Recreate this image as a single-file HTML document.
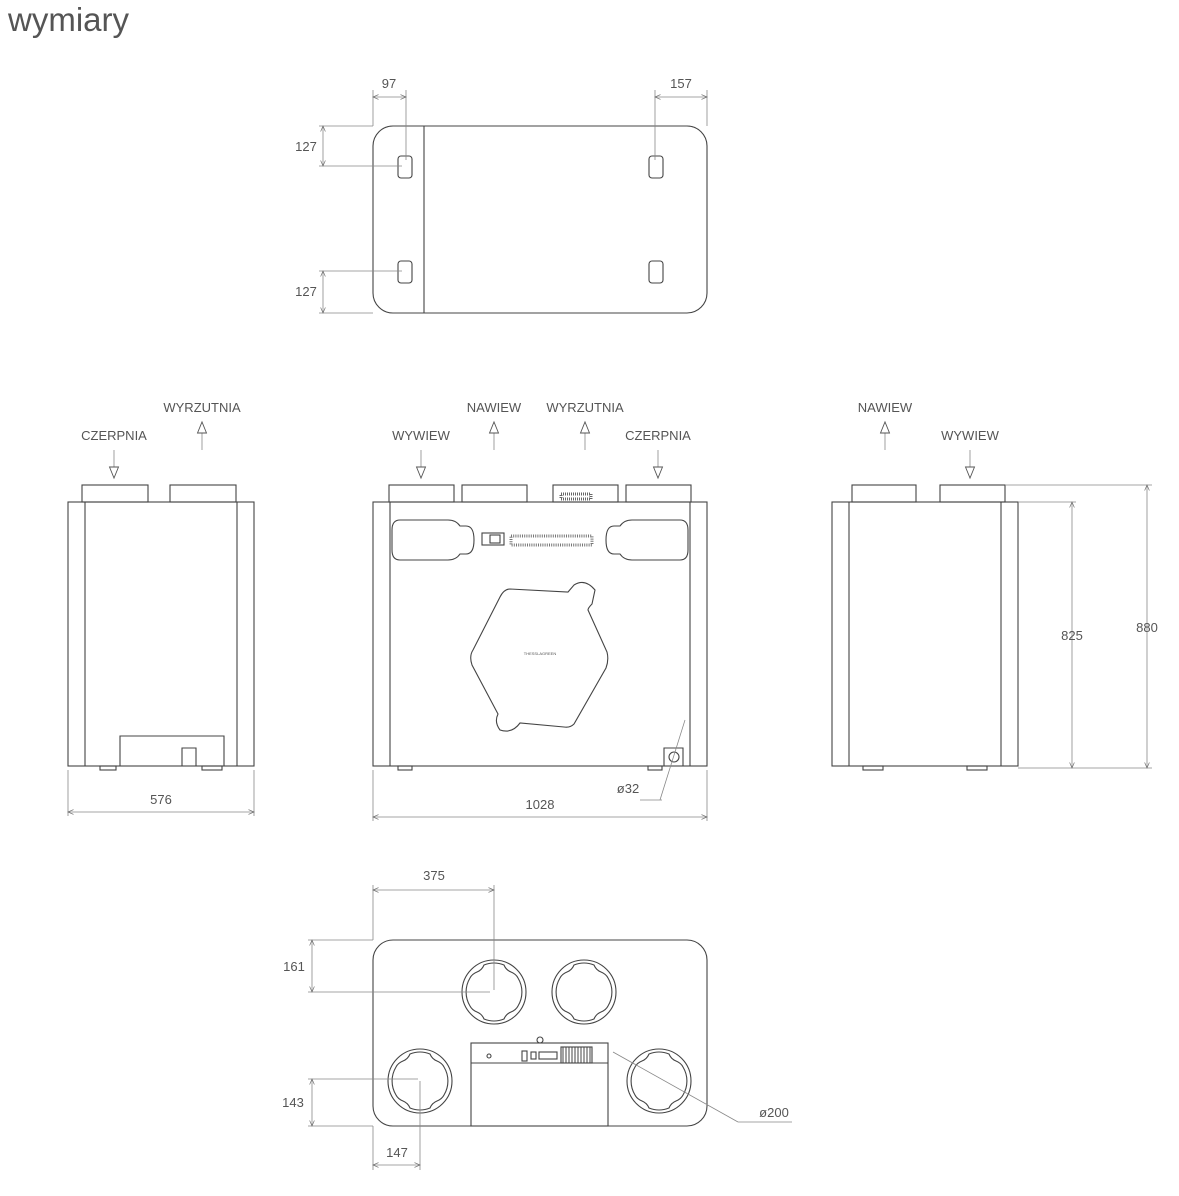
<!DOCTYPE html>
<html><head><meta charset="utf-8"><style>
html,body{margin:0;padding:0;background:#fff;}
svg{display:block;}
text{font-family:"Liberation Sans",sans-serif;fill:#555;font-size:14px;}
.l{fill:none;stroke:#444;stroke-width:1.1;}
.d{fill:none;stroke:#888;stroke-width:0.8;}
.t{font-size:13px;}
</style></head><body>
<svg width="1179" height="1196" viewBox="0 0 1179 1196" xmlns="http://www.w3.org/2000/svg">
<defs>
<marker id="a" markerWidth="8" markerHeight="8" refX="7" refY="4" orient="auto"><path d="M0,1 L7,4 L0,7" fill="none" stroke="#666" stroke-width="0.8"/></marker>
<marker id="as" markerWidth="8" markerHeight="8" refX="1" refY="4" orient="auto"><path d="M8,1 L1,4 L8,7" fill="none" stroke="#666" stroke-width="0.8"/></marker>
<marker id="h" markerWidth="14" markerHeight="12" refX="12" refY="6" orient="auto" markerUnits="userSpaceOnUse"><path d="M1,1.5 L12,6 L1,10.5 Z" fill="#fff" stroke="#555" stroke-width="0.9"/></marker>
</defs>
<text x="8" y="31" style="font-size:33px;fill:#555">wymiary</text>

<!-- TOP VIEW -->
<rect class="l" x="373" y="126" width="334" height="187" rx="20"/>
<line class="l" x1="424" y1="126" x2="424" y2="313"/>
<rect class="l" x="398" y="156" width="14" height="22" rx="3"/>
<rect class="l" x="649" y="156" width="14" height="22" rx="3"/>
<rect class="l" x="398" y="261" width="14" height="22" rx="3"/>
<rect class="l" x="649" y="261" width="14" height="22" rx="3"/>
<line class="d" x1="373" y1="90" x2="373" y2="126"/><line class="d" x1="406" y1="90" x2="406" y2="160"/>
<line class="d" x1="373" y1="97" x2="406" y2="97" marker-start="url(#as)" marker-end="url(#a)"/>
<text x="389" y="88" text-anchor="middle" class="t">97</text>
<line class="d" x1="655" y1="90" x2="655" y2="160"/><line class="d" x1="707" y1="90" x2="707" y2="126"/>
<line class="d" x1="655" y1="97" x2="707" y2="97" marker-start="url(#as)" marker-end="url(#a)"/>
<text x="681" y="88" text-anchor="middle" class="t">157</text>
<line class="d" x1="319" y1="126" x2="373" y2="126"/><line class="d" x1="319" y1="166" x2="402" y2="166"/>
<line class="d" x1="323" y1="126" x2="323" y2="166" marker-start="url(#as)" marker-end="url(#a)"/>
<text x="306" y="151" text-anchor="middle" class="t">127</text>
<line class="d" x1="319" y1="271" x2="402" y2="271"/><line class="d" x1="319" y1="313" x2="373" y2="313"/>
<line class="d" x1="323" y1="271" x2="323" y2="313" marker-start="url(#as)" marker-end="url(#a)"/>
<text x="306" y="296" text-anchor="middle" class="t">127</text>

<!-- LEFT VIEW -->
<rect class="l" x="82" y="485" width="66" height="17"/><rect class="l" x="170" y="485" width="66" height="17"/>
<rect class="l" x="68" y="502" width="186" height="264"/>
<line class="l" x1="85" y1="502" x2="85" y2="766"/><line class="l" x1="237" y1="502" x2="237" y2="766"/>
<path class="l" d="M120,766 V736 H224 V766 M182,766 V748 H196 V766"/>
<rect class="l" x="100" y="766" width="16" height="4"/><rect class="l" x="202" y="766" width="20" height="4"/>
<text x="114" y="440" text-anchor="middle" class="t">CZERPNIA</text>
<line class="d" x1="114" y1="450" x2="114" y2="478" marker-end="url(#h)"/>
<text x="202" y="412" text-anchor="middle" class="t">WYRZUTNIA</text>
<line class="d" x1="202" y1="450" x2="202" y2="422" marker-end="url(#h)"/>
<line class="d" x1="68" y1="770" x2="68" y2="816"/><line class="d" x1="254" y1="770" x2="254" y2="816"/>
<line class="d" x1="68" y1="812" x2="254" y2="812" marker-start="url(#as)" marker-end="url(#a)"/>
<text x="161" y="804" text-anchor="middle" class="t">576</text>

<!-- FRONT VIEW -->
<rect class="l" x="389" y="485" width="65" height="17"/><rect class="l" x="462" y="485" width="65" height="17"/>
<rect class="l" x="553" y="485" width="65" height="17"/><rect class="l" x="626" y="485" width="65" height="17"/>
<rect x="561" y="494" width="30" height="5" fill="none" stroke="#666" stroke-width="3" stroke-dasharray="1,1"/>
<rect class="l" x="373" y="502" width="334" height="264"/>
<line class="l" x1="390" y1="502" x2="390" y2="766"/><line class="l" x1="690" y1="502" x2="690" y2="766"/>
<path class="l" d="M400,520 H448 Q456,520 460,526 H466 Q474,526 474,540 Q474,554 466,554 H460 Q456,560 448,560 H400 Q392,560 392,550 V530 Q392,520 400,520 Z"/>
<path class="l" d="M680,520 H632 Q624,520 620,526 H614 Q606,526 606,540 Q606,554 614,554 H620 Q624,560 632,560 H680 Q688,560 688,550 V530 Q688,520 680,520 Z"/>
<rect class="l" x="482" y="533" width="22" height="12"/><rect class="l" x="490" y="535" width="10" height="8"/>
<rect x="511" y="536" width="81" height="9" fill="none" stroke="#777" stroke-width="3" stroke-dasharray="1,1.2"/>
<path class="l" d="M510,589 L568,592 L574,585 Q585,578 595,590 L592,604 Q588,608 588,610 L607,652 Q609,660 606,668 L574,724 Q570,728 564,727 L520,723 Q512,734 500,730 Q494,722 498,714 L472,665 Q469,656 473,650 L500,597 Q504,589 510,589 Z"/>
<text x="540" y="655" text-anchor="middle" style="font-size:4px">THESSLAGREEN</text>
<rect class="l" x="398" y="766" width="14" height="4"/><rect class="l" x="648" y="766" width="14" height="4"/>
<path class="l" d="M664,766 V748 H683 V766"/>
<circle class="l" cx="674" cy="757" r="5"/>
<line class="d" x1="685" y1="720" x2="660" y2="800"/>
<line class="d" x1="640" y1="800" x2="662" y2="800"/>
<text x="628" y="793" text-anchor="middle" class="t">ø32</text>
<text x="421" y="440" text-anchor="middle" class="t">WYWIEW</text>
<line class="d" x1="421" y1="450" x2="421" y2="478" marker-end="url(#h)"/>
<text x="494" y="412" text-anchor="middle" class="t">NAWIEW</text>
<line class="d" x1="494" y1="450" x2="494" y2="422" marker-end="url(#h)"/>
<text x="585" y="412" text-anchor="middle" class="t">WYRZUTNIA</text>
<line class="d" x1="585" y1="450" x2="585" y2="422" marker-end="url(#h)"/>
<text x="658" y="440" text-anchor="middle" class="t">CZERPNIA</text>
<line class="d" x1="658" y1="450" x2="658" y2="478" marker-end="url(#h)"/>
<line class="d" x1="373" y1="770" x2="373" y2="821"/><line class="d" x1="707" y1="770" x2="707" y2="821"/>
<line class="d" x1="373" y1="817" x2="707" y2="817" marker-start="url(#as)" marker-end="url(#a)"/>
<text x="540" y="809" text-anchor="middle" class="t">1028</text>

<!-- RIGHT VIEW -->
<rect class="l" x="852" y="485" width="64" height="17"/><rect class="l" x="940" y="485" width="65" height="17"/>
<rect class="l" x="832" y="502" width="186" height="264"/>
<line class="l" x1="849" y1="502" x2="849" y2="766"/><line class="l" x1="1001" y1="502" x2="1001" y2="766"/>
<rect class="l" x="863" y="766" width="20" height="4"/><rect class="l" x="967" y="766" width="20" height="4"/>
<text x="885" y="412" text-anchor="middle" class="t">NAWIEW</text>
<line class="d" x1="885" y1="450" x2="885" y2="422" marker-end="url(#h)"/>
<text x="970" y="440" text-anchor="middle" class="t">WYWIEW</text>
<line class="d" x1="970" y1="450" x2="970" y2="478" marker-end="url(#h)"/>
<line class="d" x1="1005" y1="485" x2="1152" y2="485"/><line class="d" x1="1018" y1="502" x2="1076" y2="502"/>
<line class="d" x1="1018" y1="768" x2="1152" y2="768"/>
<line class="d" x1="1072" y1="502" x2="1072" y2="768" marker-start="url(#as)" marker-end="url(#a)"/>
<line class="d" x1="1147" y1="485" x2="1147" y2="768" marker-start="url(#as)" marker-end="url(#a)"/>
<text x="1072" y="640" text-anchor="middle" class="t">825</text>
<text x="1147" y="632" text-anchor="middle" class="t">880</text>

<!-- BOTTOM VIEW -->
<rect class="l" x="373" y="940" width="334" height="186" rx="20"/>
<g class="l">
<circle cx="494" cy="992" r="32"/><circle cx="584" cy="992" r="32"/>
<circle cx="420" cy="1081" r="32"/><circle cx="659" cy="1081" r="32"/>
</g>
<g id="ni" class="l">
<path d="M-10,-27 A27,27 0 0 1 10,-27 Q12,-22 17,-20 Q22,-18 24,-14 A27,27 0 0 1 24,14 Q22,18 17,20 Q12,22 10,27 A27,27 0 0 1 -10,27 Q-12,22 -17,20 Q-22,18 -24,14 A27,27 0 0 1 -24,-14 Q-22,-18 -17,-20 Q-12,-22 -10,-27 Z" transform="translate(494,992)"/>
<path d="M-10,-27 A27,27 0 0 1 10,-27 Q12,-22 17,-20 Q22,-18 24,-14 A27,27 0 0 1 24,14 Q22,18 17,20 Q12,22 10,27 A27,27 0 0 1 -10,27 Q-12,22 -17,20 Q-22,18 -24,14 A27,27 0 0 1 -24,-14 Q-22,-18 -17,-20 Q-12,-22 -10,-27 Z" transform="translate(584,992)"/>
<path d="M-10,-27 A27,27 0 0 1 10,-27 Q12,-22 17,-20 Q22,-18 24,-14 A27,27 0 0 1 24,14 Q22,18 17,20 Q12,22 10,27 A27,27 0 0 1 -10,27 Q-12,22 -17,20 Q-22,18 -24,14 A27,27 0 0 1 -24,-14 Q-22,-18 -17,-20 Q-12,-22 -10,-27 Z" transform="translate(420,1081)"/>
<path d="M-10,-27 A27,27 0 0 1 10,-27 Q12,-22 17,-20 Q22,-18 24,-14 A27,27 0 0 1 24,14 Q22,18 17,20 Q12,22 10,27 A27,27 0 0 1 -10,27 Q-12,22 -17,20 Q-22,18 -24,14 A27,27 0 0 1 -24,-14 Q-22,-18 -17,-20 Q-12,-22 -10,-27 Z" transform="translate(659,1081)"/>
</g>
<rect class="l" x="471" y="1043" width="137" height="83"/>
<line class="l" x1="471" y1="1063" x2="608" y2="1063"/>
<circle class="l" cx="540" cy="1040" r="3"/>
<circle class="l" cx="489" cy="1056" r="2"/>
<rect class="l" x="522" y="1051" width="5" height="10"/><rect class="l" x="531" y="1052" width="5" height="7"/>
<rect class="l" x="539" y="1052" width="18" height="7"/>
<rect class="l" x="561" y="1047" width="31" height="16"/>
<g stroke="#444" stroke-width="1">
<line x1="563" y1="1047" x2="563" y2="1063"/><line x1="566" y1="1047" x2="566" y2="1063"/><line x1="569" y1="1047" x2="569" y2="1063"/><line x1="572" y1="1047" x2="572" y2="1063"/><line x1="575" y1="1047" x2="575" y2="1063"/><line x1="578" y1="1047" x2="578" y2="1063"/><line x1="581" y1="1047" x2="581" y2="1063"/><line x1="584" y1="1047" x2="584" y2="1063"/><line x1="587" y1="1047" x2="587" y2="1063"/><line x1="590" y1="1047" x2="590" y2="1063"/>
</g>
<line class="d" x1="373" y1="885" x2="373" y2="940"/><line class="d" x1="494" y1="885" x2="494" y2="990"/>
<line class="d" x1="373" y1="890" x2="494" y2="890" marker-start="url(#as)" marker-end="url(#a)"/>
<text x="434" y="880" text-anchor="middle" class="t">375</text>
<line class="d" x1="308" y1="940" x2="373" y2="940"/><line class="d" x1="308" y1="992" x2="490" y2="992"/>
<line class="d" x1="312" y1="940" x2="312" y2="992" marker-start="url(#as)" marker-end="url(#a)"/>
<text x="294" y="971" text-anchor="middle" class="t">161</text>
<line class="d" x1="308" y1="1079" x2="418" y2="1079"/><line class="d" x1="308" y1="1126" x2="373" y2="1126"/>
<line class="d" x1="312" y1="1079" x2="312" y2="1126" marker-start="url(#as)" marker-end="url(#a)"/>
<text x="293" y="1107" text-anchor="middle" class="t">143</text>
<line class="d" x1="373" y1="1126" x2="373" y2="1170"/><line class="d" x1="420" y1="1081" x2="420" y2="1170"/>
<line class="d" x1="373" y1="1165" x2="420" y2="1165" marker-start="url(#as)" marker-end="url(#a)"/>
<text x="397" y="1157" text-anchor="middle" class="t">147</text>
<line class="d" x1="613" y1="1052" x2="738" y2="1122"/>
<line class="d" x1="738" y1="1122" x2="792" y2="1122"/>
<text x="774" y="1117" text-anchor="middle" class="t">ø200</text>
</svg>
</body></html>
